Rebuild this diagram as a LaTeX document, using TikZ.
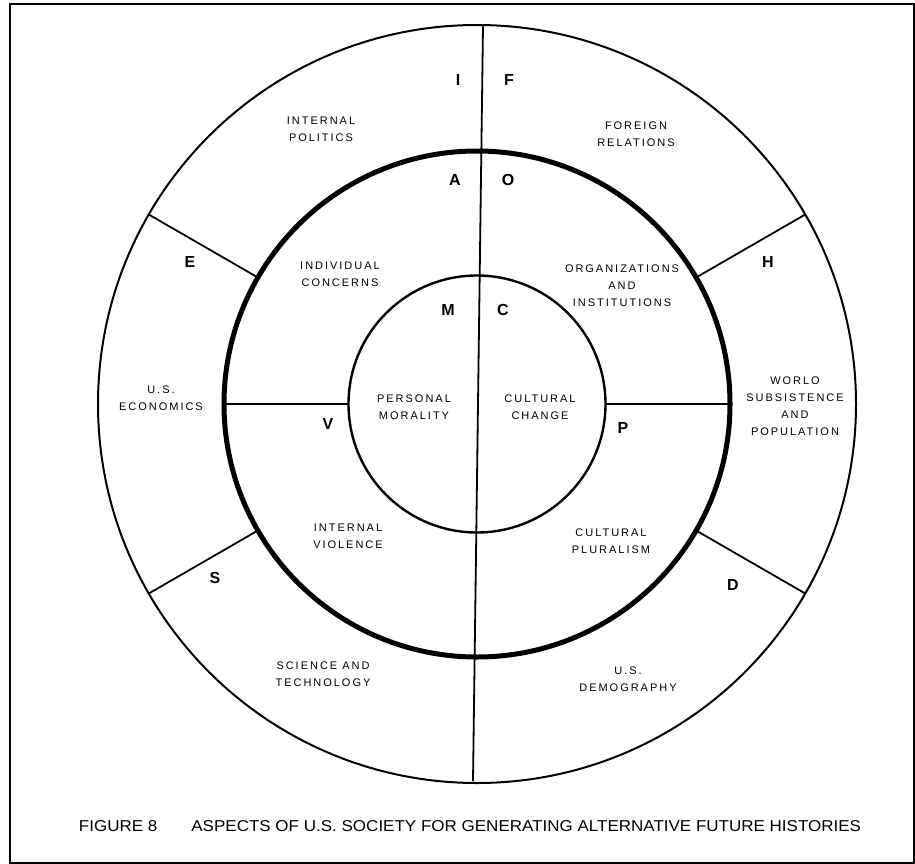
\documentclass[tikz,border=0pt]{standalone}
\usepackage{fontspec}
\setmainfont{Liberation Sans}
\newfontfamily\lblfont[LetterSpace=18]{Liberation Sans}
\usepackage{graphicx}
\begin{document}
\begin{tikzpicture}[x=1pt,y=-1pt,
  ring/.style={draw, circle, inner sep=0pt, outer sep=0pt},
  divider/.style={line width=1.8pt},
  lbl/.style={font=\lblfont\fontsize{11}{17}\selectfont, align=center, inner sep=0pt},
  letter/.style={font=\fontsize{16}{16}\selectfont\bfseries, inner sep=0pt}]
\useasboundingbox (0,0) rectangle (915,864);
\fill[white] (0,0) rectangle (915,864);
\draw[line width=2pt] (10,4.5) rectangle (914,862.5);

% rings
\node[ring, line width=2pt, minimum size=758pt] (outer) at (477,404) {};
\node[ring, line width=5pt, minimum size=506pt] (middle) at (477,404) {};
\node[ring, line width=2.4pt, minimum size=257pt] (inner) at (477,404) {};

% vertical divider
\coordinate (vtop) at (483,26);
\coordinate (vbot) at (473,781);
\draw[divider] (vtop) -- (vbot);

% outer ring dividers
\draw[divider] (outer.150) -- (middle.150);
\draw[divider] (outer.30) -- (middle.30);
\draw[divider] (outer.210) -- (middle.210);
\draw[divider] (outer.330) -- (middle.330);
% middle ring dividers
\draw[divider] (middle.180) -- (inner.180);
\draw[divider] (inner.0) -- (middle.0);

% sector letters
\node[letter] (lI) at (458,80) {I};
\node[letter] (lF) at (509,80) {F};
\node[letter] (lA) at (455,180) {A};
\node[letter] (lO) at (508,180) {O};
\node[letter] (lM) at (448,310) {M};
\node[letter] (lC) at (503,310) {C};
\node[letter] (lV) at (328,424) {V};
\node[letter] (lP) at (623,428) {P};
\node[letter] (lE) at (190,262) {E};
\node[letter] (lH) at (768,262) {H};
\node[letter] (lS) at (215,578) {S};
\node[letter] (lD) at (733,585) {D};

% sector labels
\node[lbl] (t1) at (321,129.5) {INTERNAL\\POLITICS};
\node[lbl] (t2) at (636,134) {FOREIGN\\RELATIONS};
\node[lbl] (t3) at (340,274.5) {INDIVIDUAL\\CONCERNS};
\node[lbl] (t4) at (622,286) {ORGANIZATIONS\\AND\\INSTITUTIONS};
\node[lbl] (t5) at (161,398) {U.S.\\ECONOMICS};
\node[lbl] (t6) at (414,407) {PERSONAL\\MORALITY};
\node[lbl] (t7) at (540,407.5) {CULTURAL\\CHANGE};
\node[lbl] (t8) at (795,406.5) {WORLO\\SUBSISTENCE\\AND\\POPULATION};
\node[lbl] (t9) at (348,536) {INTERNAL\\VIOLENCE};
\node[lbl] (t10) at (611,541.5) {CULTURAL\\PLURALISM};
\node[lbl] (t11) at (323,674.5) {SCIENCE AND\\TECHNOLOGY};
\node[lbl] (t12) at (628,679.5) {U.S.\\DEMOGRAPHY};

% caption
\node[inner sep=0pt] (cap) at (470,826) {\resizebox{782pt}{11pt}{FIGURE 8\hspace{2em}ASPECTS OF U.S. SOCIETY FOR GENERATING ALTERNATIVE FUTURE HISTORIES}};
\end{tikzpicture}
\end{document}
